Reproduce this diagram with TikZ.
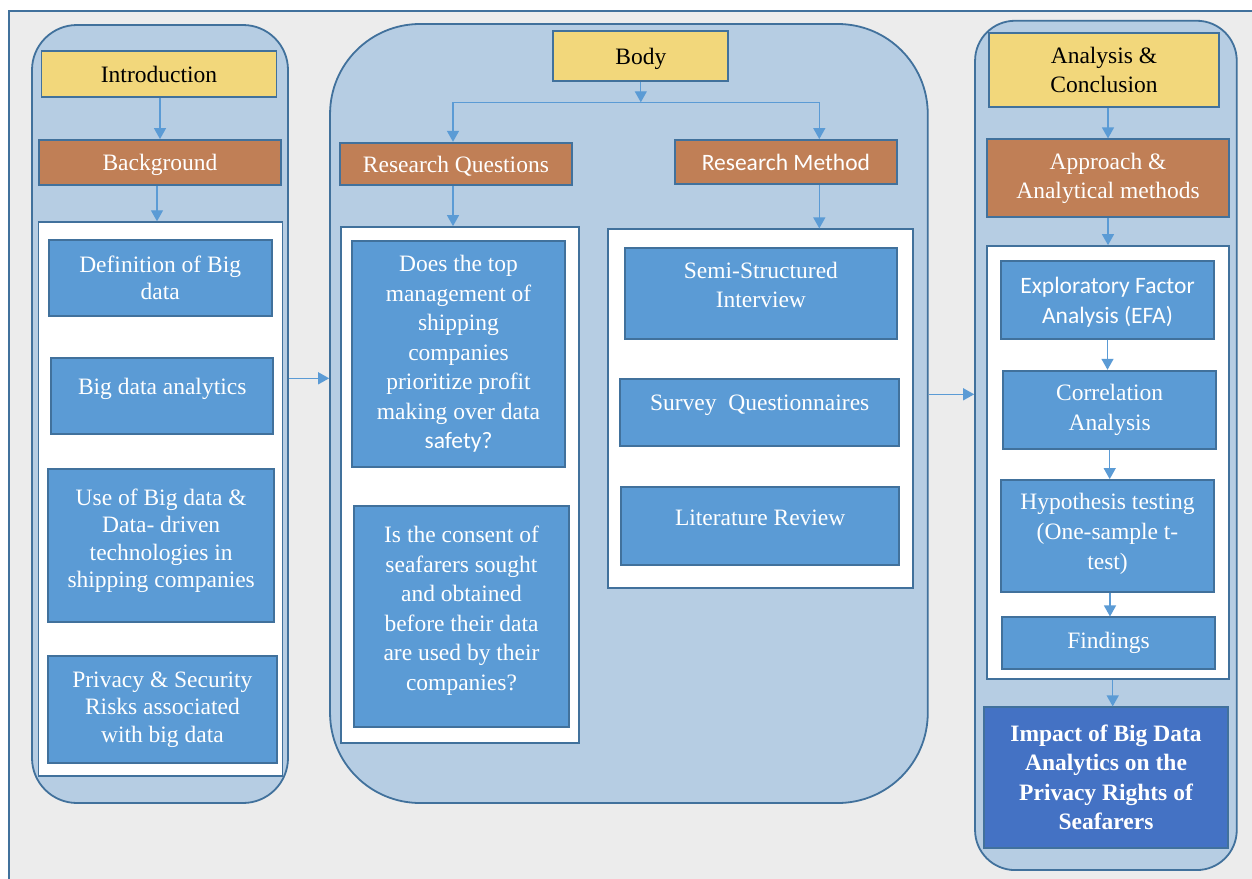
\documentclass[tikz,border=0pt]{standalone}
\usepackage{fontspec}
\setmainfont{Liberation Serif}
\newfontfamily\calfont{Carlito}
\usetikzlibrary{arrows.meta}

\definecolor{pagegrey}{HTML}{ECECEC}
\definecolor{edgeblue}{HTML}{41719C}
\definecolor{panelblue}{HTML}{B6CDE3}
\definecolor{titleyellow}{HTML}{F2D77B}
\definecolor{headbrown}{HTML}{C07F56}
\definecolor{itemblue}{HTML}{5B9BD5}
\definecolor{resultblue}{HTML}{4472C4}
\definecolor{arrowblue}{HTML}{5B9BD5}

\begin{document}
\begin{tikzpicture}[x=1pt,y=-1pt,
  every node/.style={font=\fontsize{23.5}{29.5}\selectfont, align=center, inner sep=0pt},
  leftfont/.style={font=\fontsize{23.5}{27.5}\selectfont},
  container/.style={draw=edgeblue, line width=1.8pt, fill=panelblue},
  holder/.style={draw=edgeblue, line width=1.8pt, fill=white},
  titlebox/.style={draw=edgeblue, line width=1.8pt, fill=titleyellow, text=black},
  headbox/.style={draw=edgeblue, line width=1.8pt, fill=headbrown, text=white},
  itembox/.style={draw=edgeblue, line width=1.8pt, fill=itemblue, text=white},
  resultbox/.style={draw=edgeblue, line width=1.8pt, fill=resultblue, text=white, font=\fontsize{23.5}{29.5}\selectfont\bfseries},
  lift/.style={execute at end node=\strut, text depth=#1},
  arr/.style={draw=arrowblue, line width=1.3pt, -{Triangle[length=11pt,width=12pt]}},
  link/.style={draw=arrowblue, line width=1.3pt}
]
\useasboundingbox (0,0) rectangle (1252,878);
\fill[white] (0,0) rectangle (1252,878);
% page frame
\draw[draw=edgeblue, line width=1.5pt, fill=pagegrey] (9,11) rectangle (1300,920);

% ---------- Introduction column ----------
\node[container, rounded corners=45, minimum width=256, minimum height=778] (lcol) at (160,414) {};
\node[titlebox, minimum width=235, minimum height=46] (intro) at (159,74) {Introduction};
\node[headbox, text depth=0pt, minimum width=242, minimum height=45] (bg) at (160,162.5) {Background};
\node[holder, minimum width=244, minimum height=554] (lwhite) at (160.4,499.2) {};
\node[itembox, leftfont, minimum width=223, minimum height=76] (def) at (160.2,278) {Definition of Big\\data};
\node[itembox, leftfont, lift=22.25, minimum width=222, minimum height=76] (bda) at (162.2,396.3) {Big data analytics};
\node[itembox, leftfont, lift=14.25, minimum width=226, minimum height=153] (use) at (161.2,545.4) {Use of Big data \&\\Data- driven\\technologies in\\shipping companies};
\node[itembox, leftfont, minimum width=229, minimum height=107] (priv) at (162.4,709.5) {Privacy \& Security\\Risks associated\\with big data};

\draw[arr] (bg.north |- intro.south) -- (bg.north);
\draw[arr] (bg.south -| 157,0) -- (lwhite.north -| 157,0);

% ---------- Body column ----------
\node[container, rounded corners=90, minimum width=597.7, minimum height=779] (mcol) at (628.9,413.5) {};
\node[titlebox, text depth=0pt, minimum width=175, minimum height=50] (body) at (640.8,56) {Body};
\node[headbox, text depth=0pt, minimum width=231.7, minimum height=42.3] (rq) at (455.9,163.9) {Research Questions};
\node[headbox, text depth=0pt, minimum width=221.7, minimum height=44, font=\fontsize{23.5}{29.5}\calfont] (rm) at (785.9,162) {Research Method};
\node[holder, minimum width=238, minimum height=516] (rqwhite) at (460,485) {};
\node[itembox, minimum width=213, minimum height=226] (q1) at (458.5,354) {Does the top\\management of\\shipping\\companies\\prioritize profit\\making over data\\{\calfont safety?}};
\node[itembox, lift=16.85, minimum width=215, minimum height=221] (q2) at (461.5,616.5) {Is the consent of\\seafarers sought\\and obtained\\before their data\\are used by their\\companies?};
\node[holder, minimum width=305, minimum height=358.4] (rmwhite) at (760.8,408.5) {};
\node[itembox, lift=16.85, minimum width=271.7, minimum height=91.6] (semi) at (760.9,293.5) {Semi-Structured\\Interview};
\node[itembox, lift=24.85, minimum width=278.7, minimum height=66.7] (survey) at (759.7,412.4) {Survey\ \ Questionnaires};
\node[itembox, lift=20.85, minimum width=277.7, minimum height=78.3] (lit) at (760.2,525.9) {Literature Review};

\coordinate (split) at (body.south |- 0,102.3);
\coordinate (jl) at (453,102.3);
\coordinate (jr) at (819.3,102.3);
\draw[arr] (body.south) -- (split);
\draw[link] (jl) -- (jr);
\draw[arr] (jl) -- (jl |- rq.north);
\draw[arr] (jr) -- (jr |- rm.north);
\draw[arr] (jl |- rq.south) -- (jl |- rqwhite.north);
\draw[arr] (jr |- rm.south) -- (jr |- rmwhite.north);

% ---------- Analysis column ----------
\node[container, rounded corners=40, minimum width=261.7, minimum height=849.3] (rcol) at (1105.9,445.4) {};
\node[titlebox, minimum width=230.6, minimum height=73.4] (anc) at (1104,70) {Analysis \&\\Conclusion};
\node[headbox, minimum width=242.6, minimum height=78] (appr) at (1108,178.3) {Approach \&\\Analytical methods};
\node[holder, minimum width=242.6, minimum height=433.3] (rwhite) at (1108,462.7) {};
\node[itembox, text depth=0pt, minimum width=213, minimum height=78.3, font=\fontsize{23.5}{30}\calfont] (efa) at (1107.5,299.9) {Exploratory Factor\\Analysis (EFA)};
\node[itembox, minimum width=212.7, minimum height=78.6, font=\fontsize{23.5}{30}\selectfont] (corr) at (1109.7,410) {Correlation\\Analysis};
\node[itembox, lift=10, minimum width=213, minimum height=112, font=\fontsize{23.5}{30}\selectfont] (hyp) at (1107.5,536) {Hypothesis testing\\(One-sample t-\\test)};
\node[itembox, minimum width=213, minimum height=51.7] (find) at (1108.5,643.2) {Findings};
\node[resultbox, minimum width=243.4, minimum height=140.4] (impact) at (1106,777.5) {Impact of Big Data\\Analytics on the\\Privacy Rights of\\Seafarers};

\draw[arr] (appr.north |- anc.south) -- (appr.north);
\draw[arr] (appr.south) -- (appr.south |- rwhite.north);
\draw[arr] (efa.south) -- (efa.south |- corr.north);
\draw[arr] (corr.south) -- (corr.south |- hyp.north);
\draw[arr] (hyp.south -| 1110,0) -- (find.north -| 1110,0);
\draw[arr] (rwhite.south -| 1112.7,0) -- (impact.north -| 1112.7,0);

% ---------- links between columns ----------
\draw[arr] (lcol.east |- 0,378.3) -- (mcol.west |- 0,378.3);
\draw[arr] (mcol.east |- 0,394.3) -- (rcol.west |- 0,394.3);
\end{tikzpicture}
\end{document}
